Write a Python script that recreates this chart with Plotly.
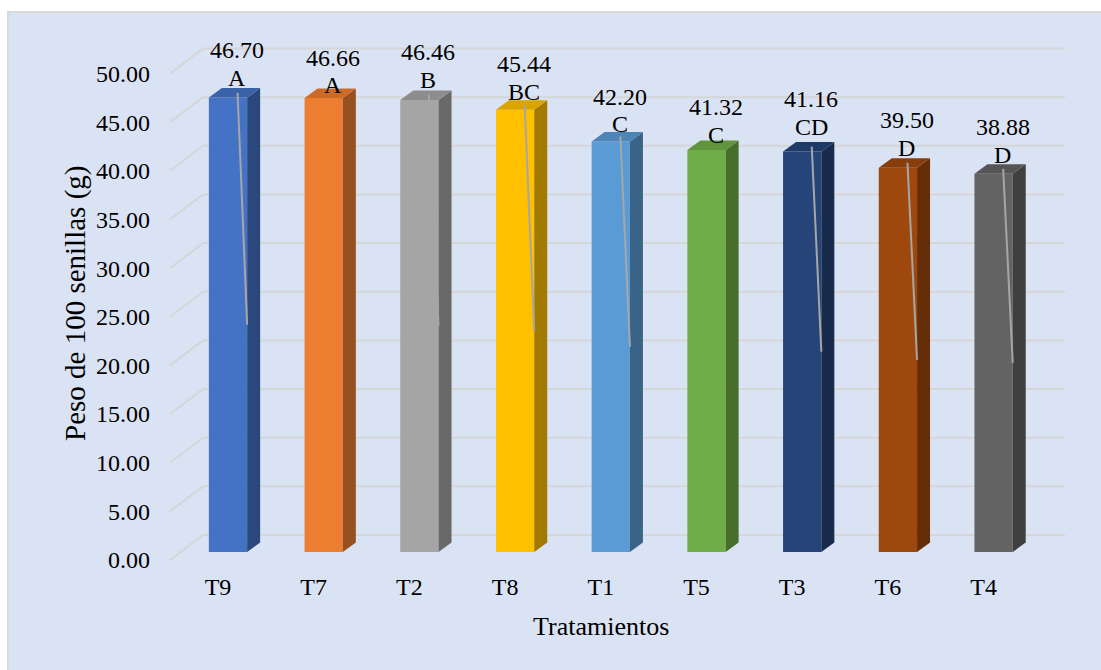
import plotly.graph_objects as go

# ---- data -------------------------------------------------------------
categories = ["T9", "T7", "T2", "T8", "T1", "T5", "T3", "T6", "T4"]
peso = [46.70, 46.66, 46.46, 45.44, 42.20, 41.32, 41.16, 39.50, 38.88]
letras = ["A", "A", "B", "BC", "C", "C", "CD", "D", "D"]
y_ticks = [0, 5, 10, 15, 20, 25, 30, 35, 40, 45, 50]

# ---- style ------------------------------------------------------------
colors = ["#4472C4", "#ED7D31", "#A5A5A5", "#FFC000", "#5B9BD5",
          "#70AD47", "#264478", "#9E480E", "#636363"]
show_lead = [True, False, True, True, True, False, True, True, True]
letter_shift = [20, 13, 20, 18, 17, 15, 25, 20, 19]   # px above bar top
VALUE_GAP = 27.5                                      # px between value and letter

FONT = "Liberation Serif, Times New Roman, serif"
BG = "#DAE3F3"
GRID = "#D4D6D8"
LEAD = "#A6A6A6"

# ---- 3D projection geometry (pixels) ----------------------------------
W, H = 1101, 670
PX_PER_UNIT = 9.73          # vertical pixels per gram
PX_PER_CAT = 95.7           # horizontal pixels per category
FIRST_CAT_PX = 228          # centre of first bar
BAR_BASE_PX = 552           # bar plane: y pixel of value 0
FRONT_BASE_PX = 560         # front plane (tick labels)
BACK_BASE_PX = 535          # back wall (gridlines)
BAR_W = 0.4
DEPTH_X_PX, DEPTH_Y_PX = 13, 9.5
GRID_X0_PX, GRID_X1_PX, GRID_FRONT_PX = 203, 1065, 170


def yrange(base_px):
    return [-(H - base_px) / PX_PER_UNIT, base_px / PX_PER_UNIT]


x_lo = -FIRST_CAT_PX / PX_PER_CAT
x_hi = (W - FIRST_CAT_PX) / PX_PER_CAT
dx = DEPTH_X_PX / PX_PER_CAT
dy = DEPTH_Y_PX / PX_PER_UNIT
label_dx = 9 / PX_PER_CAT

positions = list(range(len(categories)))


def shade(hex_color, f):
    h = hex_color.lstrip("#")
    r, g, b = (int(h[i:i + 2], 16) for i in (0, 2, 4))
    return "rgb({},{},{})".format(int(r * f), int(g * f), int(b * f))


fig = go.Figure()

# front faces
fig.add_trace(go.Bar(
    x=positions, y=peso, width=BAR_W,
    marker=dict(color=colors, line=dict(width=0)),
    hoverinfo="skip", showlegend=False,
))

# side and top faces
for i, (p, v, c) in enumerate(zip(positions, peso, colors)):
    left, right = p - BAR_W / 2, p + BAR_W / 2
    fig.add_trace(go.Scatter(
        x=[right, right, right + dx, right + dx, right],
        y=[0, v, v + dy, dy, 0],
        fill="toself", fillcolor=shade(c, 0.64), mode="lines",
        line=dict(width=0, color=shade(c, 0.64)),
        hoverinfo="skip", showlegend=False,
    ))
    fig.add_trace(go.Scatter(
        x=[left, right, right + dx, left + dx, left],
        y=[v, v, v + dy, v + dy, v],
        fill="toself", fillcolor=shade(c, 0.86), mode="lines",
        line=dict(width=0, color=shade(c, 0.86)),
        hoverinfo="skip", showlegend=False,
    ))

# leader lines
for p, v, s in zip(positions, peso, show_lead):
    if not s:
        continue
    fig.add_trace(go.Scatter(
        x=[p + 0.1, p + BAR_W / 2], y=[v + 0.5, v / 2],
        mode="lines", line=dict(color=LEAD, width=2),
        hoverinfo="skip", showlegend=False,
    ))

# front-plane axes (category and value labels) need a trace to be drawn
fig.add_trace(go.Scatter(
    x=positions, y=peso, xaxis="x2", yaxis="y2", mode="none",
    hoverinfo="skip", showlegend=False,
))

# value and letter labels
annotations = []
for p, v, l, sh in zip(positions, peso, letras, letter_shift):
    annotations.append(dict(
        x=p + label_dx, y=v, xref="x", yref="y", text=l, showarrow=False,
        yshift=sh, yanchor="middle", xanchor="center",
        font=dict(family=FONT, size=24, color="black"),
    ))
    annotations.append(dict(
        x=p + label_dx, y=v, xref="x", yref="y", text=f"{v:.2f}", showarrow=False,
        yshift=sh + VALUE_GAP, yanchor="middle", xanchor="center",
        font=dict(family=FONT, size=24, color="black"),
    ))

# axis titles
annotations.append(dict(
    text="Tratamientos", xref="paper", yref="paper",
    x=601 / W, y=1 - 626 / H, xanchor="center", yanchor="middle",
    showarrow=False, font=dict(family=FONT, size=26, color="black"),
))
annotations.append(dict(
    text="Peso de 100 senillas (g)", xref="paper", yref="paper",
    x=75 / W, y=1 - 304 / H, xanchor="center", yanchor="middle",
    textangle=-90, showarrow=False,
    font=dict(family=FONT, size=29, color="black"),
))

# chart area background and gridlines on the back wall
shapes = [dict(
    type="rect", xref="paper", yref="paper", layer="below",
    x0=8 / W, x1=1.05, y0=-0.05, y1=1 - 12 / H,
    fillcolor=BG, line=dict(color="#D9D9D9", width=2),
)]
for t in y_ticks:
    shapes.append(dict(
        type="line", xref="paper", yref="y3", layer="below",
        x0=GRID_X0_PX / W, x1=GRID_X1_PX / W, y0=t, y1=t,
        line=dict(color=GRID, width=2),
    ))
    # receding edge from the front plane to the back wall
    shapes.append(dict(
        type="line", xref="paper", yref="y3", layer="below",
        ysizemode="pixel", yanchor=t,
        x0=GRID_FRONT_PX / W, x1=GRID_X0_PX / W,
        y0=BACK_BASE_PX - FRONT_BASE_PX, y1=0,
        line=dict(color=GRID, width=2),
    ))

fig.update_layout(
    width=W, height=H,
    margin=dict(l=0, r=0, t=0, b=0),
    paper_bgcolor="white", plot_bgcolor="rgba(0,0,0,0)",
    showlegend=False,
    font=dict(family=FONT, color="black"),
    shapes=shapes, annotations=annotations,
    xaxis=dict(range=[x_lo, x_hi], visible=False, fixedrange=True),
    yaxis=dict(range=yrange(BAR_BASE_PX), visible=False, fixedrange=True),
    xaxis2=dict(
        overlaying="x", anchor="free", position=1 - 570 / H, side="bottom",
        range=[x_lo + 10 / PX_PER_CAT, x_hi + 10 / PX_PER_CAT],
        tickmode="array", tickvals=positions, ticktext=categories,
        showgrid=False, zeroline=False, showline=False, ticks="",
        tickfont=dict(family=FONT, size=24, color="black"),
    ),
    yaxis2=dict(
        overlaying="y", anchor="free", position=150 / W, side="left",
        range=yrange(FRONT_BASE_PX),
        tickmode="array", tickvals=y_ticks, tickformat=".2f",
        showgrid=False, zeroline=False, showline=False, ticks="",
        tickfont=dict(family=FONT, size=24, color="black"),
    ),
    yaxis3=dict(overlaying="y", range=yrange(BACK_BASE_PX), visible=False),
)

fig.write_html("out.html")
